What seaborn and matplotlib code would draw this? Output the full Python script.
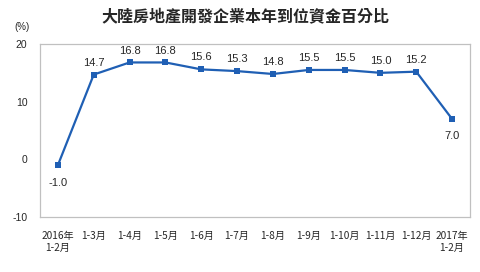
import matplotlib
matplotlib.use("Agg")
import matplotlib.pyplot as plt
import seaborn as sns
import pandas as pd
import numpy as np

categories = ["2016年\n1-2月", "1-3月", "1-4月", "1-5月", "1-6月", "1-7月", "1-8月",
              "1-9月", "1-10月", "1-11月", "1-12月", "2017年\n1-2月"]
values = [-1.0, 14.7, 16.8, 16.8, 15.6, 15.3, 14.8, 15.5, 15.5, 15.0, 15.2, 7.0]
label_below = [True] + [False] * 10 + [True]

sns.set_theme(style="white")
plt.rcParams['font.family'] = ['Noto Sans CJK TC', 'DejaVu Sans']

df = pd.DataFrame({"cat": categories, "val": values, "x": np.arange(len(categories))})

fig = plt.figure(figsize=(4.81, 2.72), dpi=100)
ax = fig.add_axes([40/481, 1 - 217/272, 430/481, 173/272])
color = "#1f5fb4"
sns.lineplot(data=df, x="x", y="val", ax=ax, color=color, linewidth=1.6,
             marker="s", markersize=4, markeredgewidth=0)

ax.set_xlim(-0.5, len(categories) - 0.5)
ax.set_ylim(-10, 20)
ax.set_yticks([-10, 0, 10, 20])
ax.set_yticklabels(["-10", "0", "10", "20"], fontsize=7.5, family="Liberation Sans")
ax.set_xticks(np.arange(len(categories)))
ax.set_xticklabels(categories, fontsize=7.3, linespacing=1.25)
ax.set_xticks(np.arange(len(categories) + 1) - 0.5, minor=True)
ax.tick_params(axis="x", which="major", length=0, pad=10)
ax.tick_params(axis="x", which="minor", length=3, direction="in", color="#c0c0c0", width=0.8)
ax.tick_params(axis="y", length=0, pad=9)
ax.set_xlabel("")
ax.set_ylabel("")
for s in ax.spines.values():
    s.set_color("#c0c0c0")
    s.set_linewidth(0.9)

for i, (v, below) in enumerate(zip(values, label_below)):
    if below:
        ax.annotate(f"{v:.1f}", (i, v), xytext=(0, -9), textcoords="offset points",
                    ha="center", va="top", fontsize=8, family="Liberation Sans")
    else:
        ax.annotate(f"{v:.1f}", (i, v), xytext=(0, 5), textcoords="offset points",
                    ha="center", va="bottom", fontsize=8, family="Liberation Sans")

fig.text(22/481, 1 - 27/272, "(%)", fontsize=7, ha="center", va="center", family="Liberation Sans")
fig.text(245/481, 1 - 16/272, "大陸房地產開發企業本年到位資金百分比", fontsize=11.5,
         fontweight="bold", ha="center", va="center")

fig.savefig("out.png", dpi=100)
